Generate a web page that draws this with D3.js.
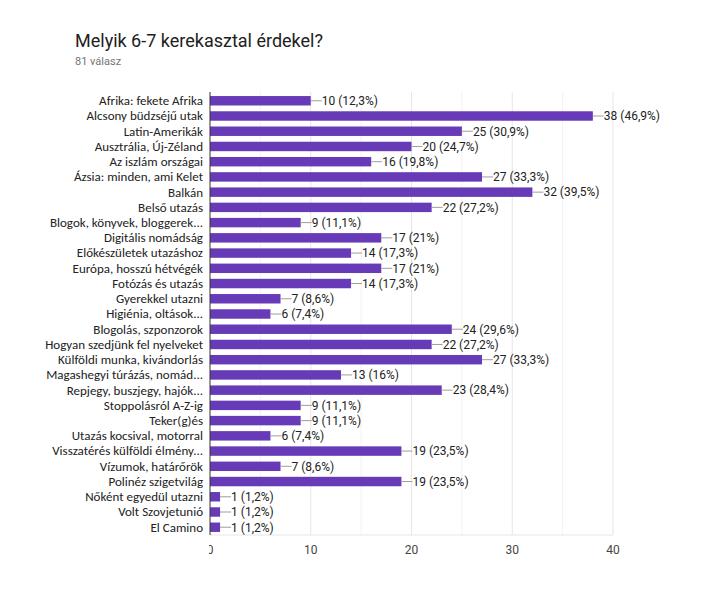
<!DOCTYPE html>
<html>
<head>
<meta charset="utf-8">
<script src="https://cdn.jsdelivr.net/npm/d3@7"></script>
<style>
  body { margin: 0; background: #fff; }
</style>
</head>
<body>
<div id="chart"></div>
<script>
// answers
const categories = [
  'Afrika: fekete Afrika', 'Alcsony büdzséjű utak', 'Latin-Amerikák', 'Ausztrália, Új-Zéland',
  'Az iszlám országai', 'Ázsia: minden, ami Kelet', 'Balkán', 'Belső utazás',
  'Blogok, könyvek, bloggerek...', 'Digitális nomádság', 'Előkészületek utazáshoz',
  'Európa, hosszú hétvégék', 'Fotózás és utazás', 'Gyerekkel utazni', 'Higiénia, oltások...',
  'Blogolás, szponzorok', 'Hogyan szedjünk fel nyelveket', 'Külföldi munka, kivándorlás',
  'Magashegyi túrázás, nomád...', 'Repjegy, buszjegy, hajók...', 'Stoppolásról A-Z-ig',
  'Teker(g)és', 'Utazás kocsival, motorral', 'Visszatérés külföldi élmény...',
  'Vízumok, határőrök', 'Polinéz szigetvilág', 'Nőként egyedül utazni', 'Volt Szovjetunió',
  'El Camino'
];
const counts = [10, 38, 25, 20, 16, 27, 32, 22, 9, 17, 14, 17, 14, 7, 6, 24, 22, 27, 13, 23, 9, 9, 6, 19, 7, 19, 1, 1, 1];
const percents = ['12,3%', '46,9%', '30,9%', '24,7%', '19,8%', '33,3%', '39,5%', '27,2%', '11,1%', '21%',
  '17,3%', '21%', '17,3%', '8,6%', '7,4%', '29,6%', '27,2%', '33,3%', '16%', '28,4%', '11,1%', '11,1%',
  '7,4%', '23,5%', '8,6%', '23,5%', '1,2%', '1,2%', '1,2%'];
const xTicks = [0, 10, 20, 30, 40];
const gridTicks = [5, 10, 15, 20, 25, 30, 35, 40];

const W = 702, H = 596;
const svg = d3.select('#chart').append('svg')
  .attr('width', W).attr('height', H)
  .style('font-family', 'Roboto, Arial, sans-serif');

svg.append('text').attr('x', 75).attr('y', 47)
  .attr('font-size', 18).attr('fill', '#212121')
  .text('Melyik 6-7 kerekasztal érdekel?');
svg.append('text').attr('x', 75).attr('y', 65)
  .attr('font-size', 11).attr('fill', '#757575')
  .text('81 válasz');

const plotL = 210, plotR = 613, plotT = 93, plotB = 535;

const x = d3.scaleLinear().domain([0, 40]).range([plotL, plotR]);
const y = d3.scaleBand().domain(categories).range([plotT, plotB]).paddingInner(0.38).paddingOuter(0.2);

// grid
svg.append('g').selectAll('line').data(gridTicks).join('line')
  .attr('x1', d => x(d)).attr('x2', d => x(d))
  .attr('y1', plotT - 1).attr('y2', plotB)
  .attr('stroke', d => d % 10 === 0 ? '#e6e6e6' : '#f2f2f2');
svg.append('line').attr('x1', plotL).attr('x2', plotR)
  .attr('y1', plotB).attr('y2', plotB).attr('stroke', '#e6e6e6');

// bars
svg.append('g').selectAll('rect').data(categories).join('rect')
  .attr('x', plotL)
  .attr('y', d => y(d))
  .attr('width', (d, i) => x(counts[i]) - plotL)
  .attr('height', y.bandwidth())
  .attr('fill', '#673ab7');

// value labels with leader line
const vl = svg.append('g').selectAll('g').data(categories).join('g')
  .attr('transform', (d, i) => `translate(${x(counts[i])},${y(d) + y.bandwidth() / 2})`);
vl.append('line').attr('x1', 0).attr('x2', 11).attr('stroke', '#9e9e9e');
vl.append('text').attr('x', 11).attr('dy', '0.36em')
  .attr('font-size', 12).attr('fill', '#222')
  .text((d, i) => `${counts[i]} (${percents[i]})`);

// category labels
svg.append('g').selectAll('text').data(categories).join('text')
  .attr('x', plotL - 7)
  .attr('y', d => y(d) + y.bandwidth() / 2)
  .attr('dy', '0.34em')
  .attr('text-anchor', 'end')
  .attr('font-family', 'Carlito, "Liberation Sans", Arial, sans-serif')
  .attr('font-size', 13).attr('fill', '#222')
  .text(d => d);

// left axis line
svg.append('line').attr('x1', plotL).attr('x2', plotL)
  .attr('y1', plotT - 1).attr('y2', plotB).attr('stroke', '#333');

// x tick labels (0 is clipped on the left, as in the original)
svg.append('clipPath').attr('id', 'tickclip').append('rect')
  .attr('x', plotL - 1).attr('y', 530).attr('width', 460).attr('height', 40);
svg.append('g').attr('clip-path', 'url(#tickclip)')
  .selectAll('text').data(xTicks).join('text')
  .attr('x', d => x(d)).attr('y', 554)
  .attr('text-anchor', 'middle')
  .attr('font-size', 12).attr('fill', '#444')
  .text(d => d);
</script>
</body>
</html>
